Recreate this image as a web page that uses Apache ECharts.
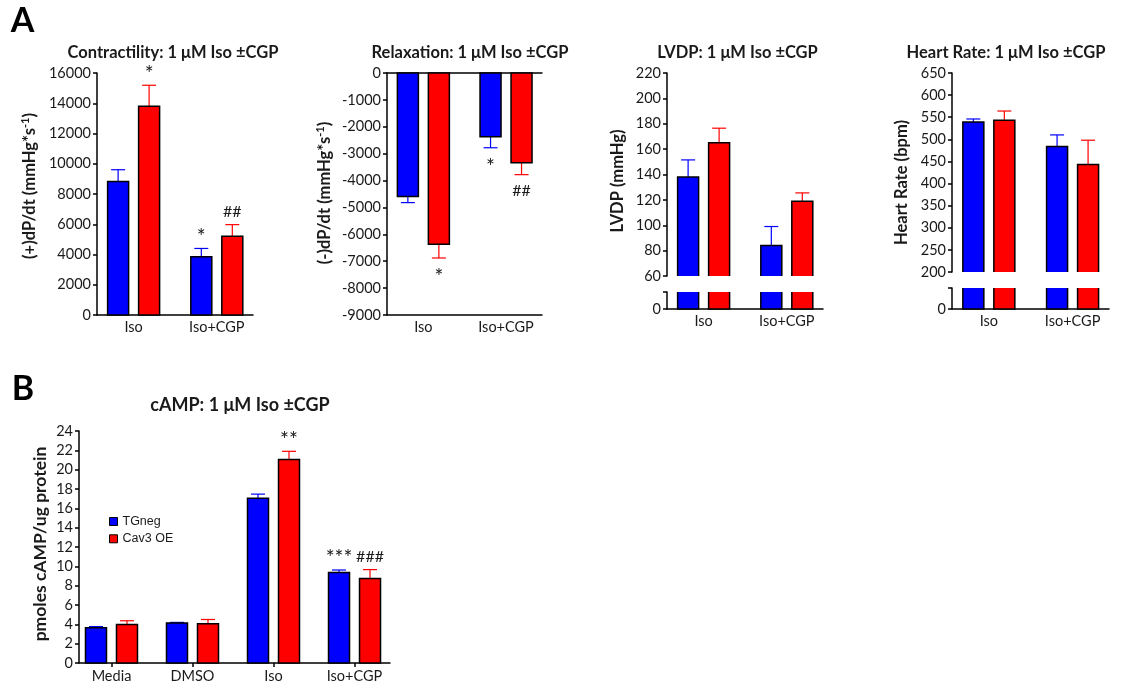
<!DOCTYPE html>
<html>
<head>
<meta charset="utf-8">
<script src="https://cdn.jsdelivr.net/npm/echarts@6/dist/echarts.min.js"></script>
<style>
  html, body { margin: 0; padding: 0; background: #fff; }
  #chart { width: 1134px; height: 687px; }
</style>
</head>
<body>
<div id="chart"></div>
<script>
// ---- categories ----
const groupsA = ['Iso', 'Iso+CGP'];
const groupsB = ['Media', 'DMSO', 'Iso', 'Iso+CGP'];
const strains = ['TGneg', 'Cav3 OE'];

// ---- (+)dP/dt, mmHg/s ----
const contrTG = [8830, 3850];
const contrTGErr = [775, 550];
const contrCav = [13800, 5200];
const contrCavErr = [1390, 775];
const contrTGMarks = ['', '*'];
const contrCavMarks = ['*', '##'];

// ---- (-)dP/dt, mmHg/s ----
const relaxTG = [-4590, -2370];
const relaxTGErr = [230, 410];
const relaxCav = [-6370, -3340];
const relaxCavErr = [510, 440];
const relaxTGMarks = ['', '*'];
const relaxCavMarks = ['*', '##'];

// ---- LVDP, mmHg ----
const lvdpTG = [138, 84];
const lvdpTGErr = [13.5, 15];
const lvdpCav = [165, 119];
const lvdpCavErr = [11.5, 6.5];

// ---- heart rate, bpm ----
const hrTG = [539, 484];
const hrTGErr = [7, 26];
const hrCav = [543, 443];
const hrCavErr = [21, 55];

// ---- cAMP, pmol/ug protein ----
const campTG = [3.65, 4.14, 17.05, 9.35];
const campTGErr = [0.12, 0.06, 0.42, 0.27];
const campCav = [3.97, 4.07, 21.05, 8.73];
const campCavErr = [0.4, 0.43, 0.85, 0.93];
const campTGMarks = ['', '', '', '***'];
const campCavMarks = ['', '', '**', '###'];

// ---- y tick labels ----
const contrTicks = [0, 2000, 4000, 6000, 8000, 10000, 12000, 14000, 16000];
const relaxTicks = [-9000, -8000, -7000, -6000, -5000, -4000, -3000, -2000, -1000, 0];
const lvdpTicks = [60, 80, 100, 120, 140, 160, 180, 200, 220];
const hrTicks = [200, 250, 300, 350, 400, 450, 500, 550, 600, 650];
const campTicks = [0, 2, 4, 6, 8, 10, 12, 14, 16, 18, 20, 22, 24];
const stubTicks = [0, 1];

// ---- styling ----
const FONT = 'Lato';
const TEXT = '#1a1a1a';
const AXIS = '#000';
const BLUE = '#0000ff';
const RED = '#ff0000';
const BAR_W = 21;
const CAP_W = 14;
const SHIFT = 15.5;
const RANGE_A = [-0.44, 1.435];
const RANGE_B = [-0.401, 3.438];
const TICK_FONT = 14.5;
const HEAD_FONT = 16.5;
const HEAD_FONT_B = 18;

const lineStyle = { color: AXIS, width: 1.5 };

function yAxisFrom(ticks, grid, labelFn) {
  return {
    type: 'value', gridIndex: grid,
    min: ticks[0], max: ticks[ticks.length - 1], interval: ticks[1] - ticks[0],
    axisLine: { show: true, onZero: false, lineStyle },
    axisTick: { show: true, length: 4, lineStyle },
    axisLabel: {
      fontFamily: FONT, fontSize: TICK_FONT, color: TEXT, margin: 6,
      formatter: labelFn || (v => String(v))
    },
    splitLine: { show: false }
  };
}

function xAxisFor(grid, names, range, withTicks, show) {
  const idx = names.map((_, i) => i);
  return {
    type: 'value', gridIndex: grid, min: range[0], max: range[1],
    position: 'bottom', show: show !== false,
    axisLine: { show: true, onZero: false, lineStyle },
    axisTick: { show: !!withTicks, length: 4, customValues: idx, lineStyle },
    axisLabel: {
      customValues: idx, formatter: v => names[Math.round(v)] || '',
      fontFamily: FONT, fontSize: TICK_FONT, color: TEXT, margin: withTicks ? 6 : 5
    },
    splitLine: { show: false }
  };
}

// significance mark placed beyond the whisker tip
function markText(mark, x, tip, up) {
  const star = mark.indexOf('*') >= 0;
  const size = star ? 21 : 16;
  const y = up ? tip - (star ? 11.5 : 13) : tip + (star ? 19 : 16);
  return {
    type: 'text', x, y,
    style: { text: mark, fontFamily: FONT, fontSize: size, fill: TEXT, align: 'center', verticalAlign: 'middle' }
  };
}

// bar with one-sided SEM whisker, optional significance mark
// part: 'full' | 'upper' (axis break below) | 'lower' (stub under the break)
function barSeries(o) {
  const data = o.values.map((v, i) => [i, v, o.errors ? o.errors[i] : 0]);
  return {
    type: 'custom', name: o.name, xAxisIndex: o.grid, yAxisIndex: o.grid,
    itemStyle: { color: o.color }, silent: true, data,
    renderItem(params, api) {
      const g = api.value(0), v = api.value(1), e = api.value(2);
      const part = o.part || 'full';
      const base = o.base || 0;
      const topV = part === 'lower' ? Math.min(v, o.cap) : v;
      const p0 = api.coord([g, base]);
      const p1 = api.coord([g, topV]);
      const xc = p0[0] + o.shift;
      const xl = xc - BAR_W / 2, xr = xc + BAR_W / 2;
      const yb = p0[1], yt = p1[1];
      const children = [];
      if (part !== 'lower' && e) {
        const pe = api.coord([g, v + Math.sign(v) * e])[1];
        const es = { stroke: o.color, lineWidth: 1.2 };
        children.push({ type: 'line', shape: { x1: xc, y1: yt, x2: xc, y2: pe }, style: es });
        children.push({ type: 'line', shape: { x1: xc - CAP_W / 2, y1: pe, x2: xc + CAP_W / 2, y2: pe }, style: es });
        const mark = o.marks ? o.marks[params.dataIndex] : '';
        if (mark) children.push(markText(mark, xc, pe, v >= 0));
      }
      children.push({
        type: 'rect',
        shape: { x: xl, y: Math.min(yb, yt), width: BAR_W, height: Math.abs(yb - yt) },
        style: part === 'full' ? { fill: o.color, stroke: '#000', lineWidth: 1.5 } : { fill: o.color }
      });
      if (part === 'upper') {
        children.push({ type: 'polyline', shape: { points: [[xl, yb], [xl, yt], [xr, yt], [xr, yb]] },
          style: { fill: null, stroke: '#000', lineWidth: 1.5 } });
      } else if (part === 'lower') {
        children.push({ type: 'polyline', shape: { points: [[xl, yt], [xl, yb], [xr, yb], [xr, yt]] },
          style: { fill: null, stroke: '#000', lineWidth: 1.5 } });
      }
      return { type: 'group', children };
    }
  };
}

function pair(grid, tg, tgErr, cav, cavErr, tgMarks, cavMarks, extra) {
  return [
    barSeries(Object.assign({ name: strains[0], grid, values: tg, errors: tgErr, marks: tgMarks, color: BLUE, shift: -SHIFT }, extra)),
    barSeries(Object.assign({ name: strains[1], grid, values: cav, errors: cavErr, marks: cavMarks, color: RED, shift: SHIFT }, extra))
  ];
}

function panelTitle(text, cx, top, size) {
  return {
    text, left: cx, top, textAlign: 'center', padding: 0,
    textStyle: { fontFamily: FONT, fontWeight: 'bold', fontSize: size || HEAD_FONT, color: TEXT }
  };
}

function yTitle(parts, x, y, size) {
  const fs = size || HEAD_FONT;
  return {
    type: 'text', x, y, rotation: Math.PI / 2, silent: true,
    style: {
      text: parts, align: 'center', verticalAlign: 'middle',
      rich: {
        t: { fontFamily: FONT, fontWeight: 'bold', fontSize: fs, fill: TEXT, color: TEXT, lineHeight: 20 },
        u: { fontFamily: FONT, fontWeight: 'bold', fontSize: 11, fill: TEXT, color: TEXT, lineHeight: 20, verticalAlign: 'top' }
      }
    }
  };
}

function letter(text, x, y) {
  return { type: 'text', x, y, silent: true,
    style: { text, fontFamily: FONT, fontWeight: 'bold', fontSize: 34, fill: '#000', align: 'center', verticalAlign: 'middle' } };
}

const stubLabel = v => (v === 0 ? '0' : '');

const option = {
  animation: false,
  backgroundColor: '#fff',
  title: [
    panelTitle('Contractility: 1 μM Iso ±CGP', 173, 44),
    panelTitle('Relaxation: 1 μM Iso ±CGP', 470, 44),
    panelTitle('LVDP: 1 μM Iso ±CGP', 737.5, 44),
    panelTitle('Heart Rate: 1 μM Iso ±CGP', 1006, 44),
    panelTitle('cAMP: 1 μM Iso ±CGP', 240, 396, HEAD_FONT_B)
  ],
  legend: {
    data: strains, orient: 'vertical', left: 109, top: 514, padding: 0,
    itemWidth: 8, itemHeight: 8, itemGap: 2.3, icon: 'rect', selectedMode: false,
    itemStyle: { borderColor: '#000', borderWidth: 1 },
    textStyle: { fontFamily: 'Liberation Sans', fontSize: 12.5, color: TEXT, lineHeight: 15 }
  },
  grid: [
    { left: 97, top: 73, width: 156, height: 242 },     // 0 contractility
    { left: 387, top: 73, width: 155, height: 242 },    // 1 relaxation
    { left: 667, top: 73, width: 156, height: 203 },    // 2 LVDP above break
    { left: 667, top: 292, width: 156, height: 17 },    // 3 LVDP below break
    { left: 952, top: 73, width: 157, height: 199 },    // 4 HR above break
    { left: 952, top: 288, width: 157, height: 21 },    // 5 HR below break
    { left: 79, top: 431, width: 311, height: 232 }     // 6 cAMP
  ],
  xAxis: [
    xAxisFor(0, groupsA, RANGE_A, false),
    xAxisFor(1, groupsA, RANGE_A, false),
    xAxisFor(2, groupsA, RANGE_A, false, false),
    xAxisFor(3, groupsA, RANGE_A, false),
    xAxisFor(4, groupsA, RANGE_A, false, false),
    xAxisFor(5, groupsA, RANGE_A, false),
    xAxisFor(6, groupsB, RANGE_B, true),
    // zero line along the top of the relaxation panel
    { type: 'value', gridIndex: 1, min: RANGE_A[0], max: RANGE_A[1], position: 'top',
      axisLine: { show: true, onZero: false, lineStyle }, axisTick: { show: false },
      axisLabel: { show: false }, splitLine: { show: false } }
  ],
  yAxis: [
    yAxisFrom(contrTicks, 0),
    yAxisFrom(relaxTicks, 1),
    yAxisFrom(lvdpTicks, 2),
    yAxisFrom(stubTicks, 3, stubLabel),
    yAxisFrom(hrTicks, 4),
    yAxisFrom(stubTicks, 5, stubLabel),
    yAxisFrom(campTicks, 6)
  ],
  series: [
    ...pair(0, contrTG, contrTGErr, contrCav, contrCavErr, contrTGMarks, contrCavMarks),
    ...pair(1, relaxTG, relaxTGErr, relaxCav, relaxCavErr, relaxTGMarks, relaxCavMarks),
    ...pair(2, lvdpTG, lvdpTGErr, lvdpCav, lvdpCavErr, null, null, { part: 'upper', base: lvdpTicks[0] }),
    ...pair(3, lvdpTG, null, lvdpCav, null, null, null, { part: 'lower', cap: stubTicks[1] }),
    ...pair(4, hrTG, hrTGErr, hrCav, hrCavErr, null, null, { part: 'upper', base: hrTicks[0] }),
    ...pair(5, hrTG, null, hrCav, null, null, null, { part: 'lower', cap: stubTicks[1] }),
    ...pair(6, campTG, campTGErr, campCav, campCavErr, campTGMarks, campCavMarks)
  ],
  graphic: [
    letter('A', 22.5, 21),
    letter('B', 23, 389),
    yTitle('{t|(+)dP/dt (mmHg*s}{u|-1}{t|)}', 29.5, 186),
    yTitle('{t|(-)dP/dt (mmHg*s}{u|-1}{t|)}', 324.5, 193),
    yTitle('{t|LVDP (mmHg)}', 618, 181),
    yTitle('{t|Heart Rate (bpm)}', 902, 182.5),
    yTitle('{t|pmoles cAMP/ug protein}', 40, 544, 17.5)
  ]
};

const chart = echarts.init(document.getElementById('chart'), null, { renderer: 'canvas' });
chart.setOption(option);
</script>
</body>
</html>
